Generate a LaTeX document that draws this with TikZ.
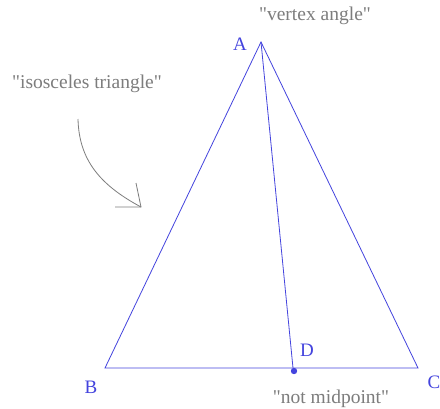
\documentclass[tikz,border=0pt]{standalone}
\usepackage{fontspec}
\setmainfont{Liberation Serif}
\newfontfamily\notefont{Liberation Serif}
\begin{document}
\begin{tikzpicture}[x=1pt,y=-1pt,
  edge/.style={draw=triblue, line width=0.8pt},
  vlabel/.style={text=triblue, font=\notefont\fontsize{19}{21}\selectfont, inner sep=0pt},
  note/.style={text=notegray, font=\notefont\fontsize{19.5}{21}\selectfont, inner sep=0pt},
  pointer/.style={draw=notegray, line width=0.8pt}]
\definecolor{triblue}{RGB}{68,68,222}
\definecolor{notegray}{RGB}{125,125,125}
\useasboundingbox[fill=white] (0,0) rectangle (440,408);
\coordinate (A) at (261,42);
\coordinate (B) at (105,368);
\coordinate (C) at (418,368);
\coordinate (D) at (293,368);
\draw[edge, line join=miter] (A) -- (B) -- (C) -- cycle;
\draw[edge] (A) -- (D);
\fill[triblue] (294,371) circle (3.2);
\node[vlabel] (lA) at (240,44) {A};
\node[vlabel] (lB) at (91,387) {B};
\node[vlabel] (lC) at (434,382) {C};
\node[vlabel] (lD) at (307,350) {D};
\node[note] (nv) at (315,16) {"vertex angle"};
\node[note] (ni) at (87,84) {"isosceles triangle"};
\node[note] (nm) at (331,399) {"not midpoint"};
\coordinate (p0) at (78,119);
\coordinate (tip) at (141,207);
\coordinate (h1) at (115,207);
\coordinate (h2) at (136,183);
\draw[pointer] (p0) .. controls (79,160) and (100,185) .. (tip);
\draw[pointer] (h1) -- (tip) -- (h2);
\end{tikzpicture}
\end{document}
